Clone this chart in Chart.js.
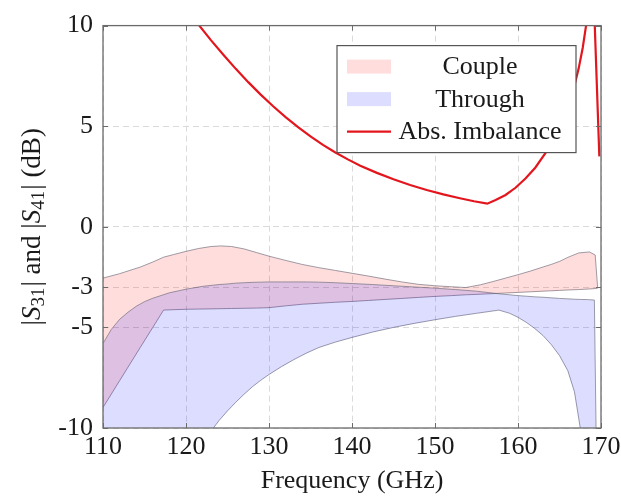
<!DOCTYPE html>
<html>
<head>
<meta charset="utf-8">
<script src="https://cdn.jsdelivr.net/npm/chart.js@4.4.1/dist/chart.umd.min.js"></script>
<style>
  html, body { margin: 0; padding: 0; background: #fff; }
  canvas { display: block; }
</style>
</head>
<body>
<canvas id="chart" width="621" height="498"></canvas>
<script>
// values (GHz / dB)
const coupleFreq = [110, 112, 114.5, 116, 117.3, 118.5, 120, 121.5, 123, 124.2, 125.5, 127, 128.5, 130, 132, 134, 136, 138, 140, 142, 144, 146, 148, 150, 152, 153.7, 155.5, 157, 158.5, 160, 161.5, 163, 164, 165, 166, 167.3, 168.6, 169.3, 169.6];
const coupleUpper = [-2.55, -2.33, -2.0, -1.75, -1.51, -1.38, -1.22, -1.08, -0.98, -0.95, -0.98, -1.1, -1.28, -1.46, -1.67, -1.87, -2.03, -2.17, -2.31, -2.45, -2.6, -2.74, -2.86, -2.93, -2.98, -3.02, -2.88, -2.72, -2.55, -2.38, -2.2, -2.0, -1.87, -1.72, -1.52, -1.3, -1.25, -1.4, -3.05];
const coupleLower = [-8.98, -7.65, -5.99, -5.0, -4.14, -4.12, -4.1, -4.09, -4.08, -4.07, -4.06, -4.05, -4.04, -4.02, -3.93, -3.85, -3.8, -3.75, -3.71, -3.66, -3.61, -3.56, -3.51, -3.46, -3.42, -3.38, -3.35, -3.32, -3.29, -3.26, -3.23, -3.2, -3.18, -3.16, -3.14, -3.12, -3.09, -3.07, -3.05];

const throughFreq = [110, 111, 112, 113, 114, 115, 116, 118, 120, 122, 123.3, 124, 125, 126, 127, 128, 129, 130, 131.5, 133, 134.5, 136, 138, 140, 142.5, 145, 147.5, 150, 152.5, 155, 157.7, 159, 160, 161, 162, 163, 164, 165, 166, 166.8, 167.5, 168.5, 169.2, 169.5];
const throughUpper = [-5.8, -5.1, -4.6, -4.25, -3.95, -3.72, -3.55, -3.28, -3.1, -2.96, -2.9, -2.87, -2.84, -2.8, -2.78, -2.76, -2.75, -2.74, -2.74, -2.74, -2.74, -2.75, -2.78, -2.82, -2.87, -2.93, -2.99, -3.05, -3.12, -3.2, -3.33, -3.38, -3.42, -3.45, -3.48, -3.5, -3.53, -3.56, -3.58, -3.6, -3.61, -3.62, -3.64, -13];
const throughLower = [-17, -16.5, -16, -15.5, -15, -14.5, -14, -13, -12, -10.75, -10, -9.62, -9.15, -8.72, -8.32, -7.95, -7.63, -7.34, -6.95, -6.6, -6.28, -6.0, -5.73, -5.5, -5.23, -5.0, -4.8, -4.62, -4.45, -4.3, -4.14, -4.3, -4.5, -4.75, -5.05, -5.4, -5.85, -6.4, -7.15, -8.2, -10, -12.5, -13.5, -13.5];

const imbalanceFreq = [120.8, 121.6, 123, 124.5, 126, 127.5, 129, 130.5, 132, 133.5, 135, 136.5, 138, 139.5, 141, 143, 145, 147, 149, 151, 153, 154.7, 156.3, 157.3, 158.5, 159.7, 160.9, 162.1, 163.3, 164.3, 165.2, 166, 166.7, 167.3, 167.8, 168.2, 168.6, 168.9, 169.25, 169.8];
const imbalance = [10.45, 10.0, 9.28, 8.55, 7.85, 7.19, 6.57, 5.99, 5.45, 4.95, 4.49, 4.07, 3.69, 3.35, 3.04, 2.68, 2.36, 2.08, 1.83, 1.61, 1.42, 1.27, 1.15, 1.33, 1.58, 1.94, 2.4, 2.95, 3.66, 4.35, 5.1, 5.95, 6.85, 7.85, 8.9, 10.0, 11.3, 11.5, 10.0, 3.5];

const yTicks = [-10, -5, -3, 0, 5, 10];
const seriesLabels = ['Couple', 'Through', 'Abs. Imbalance'];

const SERIF = "'Liberation Serif', 'Times New Roman', serif";
const coupleFill = 'rgba(255, 0, 0, 0.135)';
const throughFill = 'rgba(0, 0, 255, 0.135)';
const edgeColor = 'rgba(95, 95, 110, 0.6)';
const red = '#e3161e';

function toPoints(xs, ys) {
  return xs.map((x, i) => ({ x, y: ys[i] }));
}

// full box + inward tick marks, like pgfplots
const frameAndTicks = {
  id: 'frameAndTicks',
  afterDatasetsDraw(chart) {
    const { ctx, chartArea: a, scales: { x, y } } = chart;
    ctx.save();
    ctx.strokeStyle = '#6b6b6b';
    ctx.lineWidth = 1;
    ctx.beginPath();
    x.ticks.forEach(t => {
      const px = Math.round(x.getPixelForValue(t.value)) + 0.5;
      ctx.moveTo(px, a.bottom); ctx.lineTo(px, a.bottom - 5);
      ctx.moveTo(px, a.top); ctx.lineTo(px, a.top + 5);
    });
    y.ticks.forEach(t => {
      const py = Math.round(y.getPixelForValue(t.value)) + 0.5;
      ctx.moveTo(a.left, py); ctx.lineTo(a.left + 5, py);
      ctx.moveTo(a.right, py); ctx.lineTo(a.right - 5, py);
    });
    ctx.stroke();
    ctx.lineWidth = 1.3;
    ctx.strokeRect(a.left, a.top, a.width, a.height);
    ctx.restore();
  }
};

// rotated y title with italic S and subscripts
const yTitle = {
  id: 'yTitle',
  afterDraw(chart) {
    const { ctx, chartArea: a } = chart;
    const parts = [
      ['|', 'n'], ['S', 'i'], ['31', 's'], ['| and |', 'n'],
      ['S', 'i'], ['41', 's'], ['| (dB)', 'n'],
    ];
    const fontFor = k => k === 'i' ? `italic 27px ${SERIF}` : k === 's' ? `19px ${SERIF}` : `27px ${SERIF}`;
    ctx.save();
    let total = 0;
    const widths = parts.map(([t, k]) => {
      ctx.font = fontFor(k);
      const w = ctx.measureText(t).width + (k === 's' ? 1 : 0);
      total += w;
      return w;
    });
    ctx.translate(31, (a.top + a.bottom) / 2);
    ctx.rotate(-Math.PI / 2);
    ctx.fillStyle = '#1a1a1a';
    ctx.textBaseline = 'alphabetic';
    let cx = -total / 2;
    parts.forEach(([t, k], i) => {
      ctx.font = fontFor(k);
      ctx.fillText(t, cx, k === 's' ? 13 : 9);
      cx += widths[i];
    });
    ctx.restore();
  }
};

// boxed legend in the upper right of the plot
const boxLegend = {
  id: 'boxLegend',
  afterDraw(chart) {
    const { ctx, chartArea: a } = chart;
    const w = 239, h = 107;
    const left = a.right - 25 - w, top = a.top + 20;
    ctx.save();
    ctx.fillStyle = '#fff';
    ctx.fillRect(left, top, w, h);
    ctx.strokeStyle = '#555';
    ctx.lineWidth = 1.2;
    ctx.strokeRect(left, top, w, h);
    const rows = [21, 53.5, 86];
    const swLeft = left + 10, swW = 44;
    ctx.fillStyle = coupleFill;
    ctx.fillRect(swLeft, top + rows[0] - 7, swW, 14);
    ctx.fillStyle = throughFill;
    ctx.fillRect(swLeft, top + rows[1] - 7, swW, 14);
    ctx.strokeStyle = red;
    ctx.lineWidth = 2.2;
    ctx.beginPath();
    ctx.moveTo(swLeft, top + rows[2]);
    ctx.lineTo(swLeft + swW, top + rows[2]);
    ctx.stroke();
    ctx.fillStyle = '#1a1a1a';
    ctx.font = `26px ${SERIF}`;
    ctx.textAlign = 'center';
    ctx.textBaseline = 'middle';
    seriesLabels.forEach((label, i) => {
      ctx.fillText(label, left + 143, top + rows[i] + 1);
    });
    ctx.restore();
  }
};

const tickFont = { family: SERIF, size: 26 };

new Chart(document.getElementById('chart'), {
  type: 'line',
  data: {
    datasets: [
      {
        label: seriesLabels[2],
        data: toPoints(imbalanceFreq, imbalance),
        borderColor: red,
        borderWidth: 2.2,
        fill: false,
        order: 0,
      },
      {
        label: seriesLabels[1],
        data: toPoints(throughFreq, throughUpper),
        borderColor: edgeColor,
        borderWidth: 1,
        backgroundColor: throughFill,
        fill: 2,
        order: 1,
      },
      {
        label: seriesLabels[1] + ' lower',
        data: toPoints(throughFreq, throughLower),
        borderColor: edgeColor,
        borderWidth: 1,
        fill: false,
        order: 1,
      },
      {
        label: seriesLabels[0],
        data: toPoints(coupleFreq, coupleUpper),
        borderColor: edgeColor,
        borderWidth: 1,
        backgroundColor: coupleFill,
        fill: 4,
        order: 2,
      },
      {
        label: seriesLabels[0] + ' lower',
        data: toPoints(coupleFreq, coupleLower),
        borderColor: edgeColor,
        borderWidth: 1,
        fill: false,
        order: 2,
      },
    ],
  },
  options: {
    responsive: false,
    animation: false,
    layout: { padding: { top: 22, right: 20, left: 0, bottom: 0 } },
    plugins: {
      legend: { display: false },
      tooltip: { enabled: false },
    },
    elements: {
      point: { radius: 0, hoverRadius: 0 },
      line: { tension: 0 },
    },
    scales: {
      x: {
        type: 'linear',
        min: 110,
        max: 170,
        ticks: { stepSize: 10, padding: 4, maxRotation: 0, color: '#1a1a1a', font: tickFont },
        grid: { color: '#dadada', lineWidth: 1, drawTicks: false },
        border: { display: false, dash: [6, 4] },
        title: {
          display: true,
          text: 'Frequency (GHz)',
          color: '#1a1a1a',
          font: tickFont,
          padding: { top: 0, bottom: 1 },
        },
        afterFit: s => {
          s.height = 70;
          s.paddingLeft = 0;
          s.paddingRight = 0;
        },
      },
      y: {
        type: 'linear',
        min: -10,
        max: 10,
        afterBuildTicks: s => { s.ticks = yTicks.map(v => ({ value: v })); },
        ticks: { padding: 10, color: '#1a1a1a', font: tickFont },
        grid: { color: '#dadada', lineWidth: 1, drawTicks: false },
        border: { display: false, dash: [6, 4] },
        afterFit: s => { s.width = 103; },
      },
    },
  },
  plugins: [frameAndTicks, yTitle, boxLegend],
});
</script>
</body>
</html>
